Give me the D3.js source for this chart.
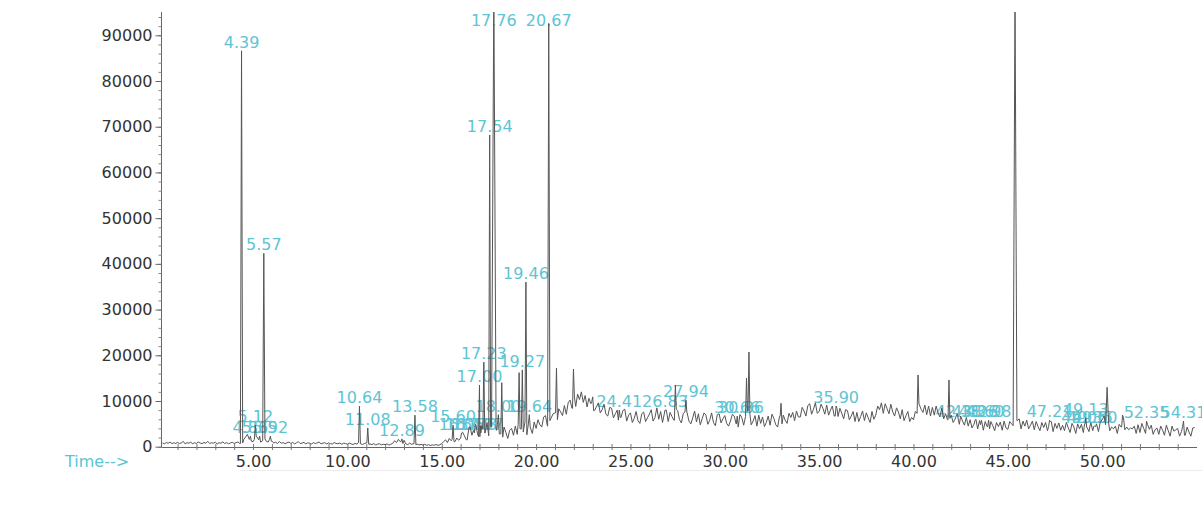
<!DOCTYPE html>
<html>
<head>
<meta charset="utf-8">
<script src="https://cdn.jsdelivr.net/npm/d3@7"></script>
<style>
  body { margin: 0; background: #fff; }
  text { font-family: "DejaVu Sans", sans-serif; }
</style>
</head>
<body>
<svg id="chart" width="1202" height="512"></svg>
<script>
// detector signal (abundance), sampled every 0.1 min starting at 0.2 min
const t0 = 0.2, dt = 0.1;
const signal = [
  820, 640, 900, 750, 1010, 680, 860, 720,                         // 0
  940, 700, 830, 1160, 610, 880, 760, 990, 650, 870,               // 1
  720, 1020, 810, 660, 930, 740, 1180, 690, 850, 770,              // 2
  980, 620, 870, 760, 1040, 700, 900, 640, 820, 950,               // 3
  710, 880, 1050, 680, 800, 1500, 2100, 2700, 1600, 1200,          // 4
  1100, 1600, 2200, 1500, 1000, 1300, 1700, 1200, 1000, 1600,      // 5
  1200, 820, 980, 700, 1150, 760, 900, 640, 870, 1000,             // 6
  700, 930, 620, 850, 1110, 680, 790, 940, 600, 860,               // 7
  760, 590, 900, 700, 820, 1020, 640, 780, 880, 610,               // 8
  830, 680, 560, 900, 720, 640, 810, 520, 760, 690,                // 9
  540, 780, 610, 470, 720, 580, 900, 650, 480, 700,                // 10
  820, 520, 610, 430, 690, 380, 560, 640, 400, 530,                // 11
  460, 620, 350, 540, 720, 1300, 900, 1600, 1100, 680,             // 12
  1400, 600, 460, 780, 520, 640, 430, 560, 380, 500,               // 13
  360, 520, 300, 440, 260, 400, 330, 480, 280, 420,                // 14
  700, 1100, 1500, 900, 1800, 1300, 1600, 1100, 1900, 1400,        // 15
  1900, 3200, 2400, 1500, 3800, 4300, 2500, 3600, 4900, 2800,      // 16
  2200, 4600, 3800, 3000, 5300, 2400, 4400, 2600, 3900, 3600,      // 17
  4800, 2800, 2100, 4300, 3100, 1800, 3600, 4000, 2500, 4500,      // 18
  2700, 4900, 3900, 3200, 5200, 2600, 5000, 4100, 2900, 5400,      // 19
  4000, 5900, 4800, 4300, 6500, 6800, 4500, 5700, 6300, 7200,      // 20
  7400, 5900, 8300, 7600, 6800, 9000, 7100, 9600, 10200, 8400,     // 21
  10900, 8800, 11500, 10300, 12000, 9700, 11200, 8700, 10600, 9400,// 22
  9900, 7900, 8800, 9600, 7400, 8100, 9300, 7100, 6700, 8600,      // 23
  8400, 6300, 7200, 8000, 5800, 6400, 7900, 8200, 5600, 6900,      // 24
  7400, 5300, 6200, 7700, 5700, 5100, 7200, 7600, 5500, 6300,      // 25
  7100, 8100, 5600, 6400, 8500, 6000, 7700, 5300, 6900, 8000,      // 26
  5500, 7500, 6600, 5800, 8200, 7900, 5900, 5200, 7300, 7600,      // 27
  7500, 5600, 5000, 6300, 7800, 5400, 7200, 4800, 6100, 7400,      // 28
  6900, 4900, 5800, 7400, 5300, 4600, 7000, 7200, 5200, 6100,      // 29
  6800, 5100, 4500, 5600, 7100, 6700, 5000, 4300, 7000, 6200,      // 30
  4700, 6600, 7800, 7100, 4800, 5600, 6800, 4500, 6900, 5100,      // 31
  6500, 4400, 5300, 6700, 4700, 7100, 6200, 4800, 4300, 6600,      // 32
  5000, 6900, 5800, 5100, 7300, 6400, 7500, 5700, 7800, 6500,      // 33
  6500, 8600, 7800, 6700, 9000, 9400, 7100, 8200, 9600, 7300,      // 34
  7700, 9300, 8400, 7100, 9100, 6900, 8000, 8900, 6700, 8300,      // 35
  6600, 8400, 7300, 6100, 8100, 7900, 5900, 6700, 7700, 5500,      // 36
  7500, 5500, 6600, 7800, 5700, 7400, 6300, 5300, 7700, 6000,      // 37
  6900, 8900, 8100, 9600, 7300, 9400, 8300, 7200, 9300, 7600,      // 38
  6700, 8500, 7600, 6100, 8100, 5700, 6800, 7700, 5500, 6400,      // 39
  5900, 7700, 7300, 9300, 8200, 7500, 9100, 7000, 8900, 6700,      // 40
  8600, 6900, 8900, 7400, 6500, 8500, 6100, 7200, 5900, 6200,      // 41
  6900, 5300, 6000, 7100, 4900, 6700, 5600, 4700, 6400, 4500,      // 42
  5900, 4100, 4900, 6000, 3900, 5700, 4800, 3600, 5500, 4400,      // 43
  3900, 5500, 4600, 3500, 5300, 4400, 5400, 3600, 5600, 4100,      // 44
  3800, 5500, 5000, 4600, 3600, 5700, 6100, 3900, 5600, 4500,      // 45
  5800, 3900, 4700, 5600, 3700, 5500, 4400, 3500, 5300, 4200,      // 46
  5300, 3500, 4400, 5500, 3300, 5100, 4000, 5200, 3600, 4700,      // 47
  3500, 5300, 4200, 3100, 5100, 4300, 2900, 5000, 3900, 4900,      // 48
  3100, 5100, 4200, 3300, 5200, 3500, 4400, 5000, 3300, 5400,      // 49
  5900, 6700, 4800, 5200, 3500, 4300, 3900, 4500, 2900, 4900,      // 50
  4300, 6300, 3700, 4300, 3700, 4100, 3900, 4500, 2900, 4800,      // 51
  3100, 5100, 4000, 2900, 4900, 3800, 4700, 2700, 3700, 4100,      // 52
  2700, 4500, 3600, 2500, 4700, 3500, 2300, 4500, 3400, 3700,      // 53
  4000, 2300, 3300, 4400, 2500, 4300, 3200, 2300, 4100, 4200       // 54
];

// integrated peaks: [retention time (min), apex abundance, half width (min)]
const labelledPeaks = [
  [4.39, 86600, 0.06], [4.86, 2300], [5.12, 4700], [5.35, 2300], [5.57, 42300, 0.06], [5.92, 2300],
  [10.64, 8900], [11.08, 4100], [12.89, 1700], [13.58, 6900], [15.60, 4700],
  [16.05, 3000], [16.40, 3000], [16.73, 3000], [17.00, 13500], [17.07, 3000],
  [17.23, 18500], [17.54, 68200], [17.76, 100000, 0.12], [18.00, 7000],
  [19.27, 16800], [19.46, 36000], [19.64, 7000], [20.67, 92600, 0.06],
  [24.41, 8000], [26.83, 8000], [27.94, 10200], [30.66, 6700], [30.86, 6700], [35.90, 8900],
  [42.38, 5800], [43.26, 5800], [43.60, 5800], [43.98, 5800], [47.21, 5800],
  [49.05, 4500], [49.13, 6300], [49.35, 4500], [49.60, 4500], [52.35, 5600], [54.31, 5600]
];
// peaks without a retention time label
const otherPeaks = [
  [18.18, 14000], [19.10, 16200], [21.08, 17200], [21.98, 17000], [23.00, 10900],
  [27.38, 13500], [31.15, 15000], [31.28, 20700], [32.98, 9500], [40.24, 15700],
  [41.88, 14600], [45.38, 100000, 0.1], [50.26, 13000, 0.08], [51.08, 6900]
];

const yTicks = d3.range(0, 90001, 10000);
const yMinorTicks = d3.range(0, 94001, 2000);
const xTicks = d3.range(1, 55, 1);
const xLabelTicks = d3.range(5, 51, 5);

const svg = d3.select("#chart");
const x = d3.scaleLinear().domain([0, 55]).range([158.7, 158.7 + 55 * 18.87]);
const y = d3.scaleLinear().domain([0, 90000]).range([446.7, 35.3]);
const cyan = "#5ec4d4";
const fmt = d3.format(".2f");

svg.append("rect").attr("width", 1202).attr("height", 512).attr("fill", "#fff");

// faint scan line under the time labels
svg.append("line").attr("x1", 240).attr("x2", 1202).attr("y1", 470.5).attr("y2", 470.5)
  .attr("stroke", "#ececec");

// y axis
svg.append("line").attr("x1", 161.5).attr("x2", 161.5).attr("y1", 12).attr("y2", 447)
  .attr("stroke", "#666");
svg.append("g").attr("transform", "translate(161.5,0)")
  .call(d3.axisLeft(y).tickValues(yMinorTicks).tickSize(3).tickFormat(""))
  .call(g => g.select(".domain").remove())
  .selectAll("line").attr("stroke", "#888");
svg.append("g").attr("transform", "translate(161.5,0)")
  .call(d3.axisLeft(y).tickValues(yTicks).tickSize(6).tickPadding(3).tickFormat(d3.format("d")))
  .call(g => g.select(".domain").remove())
  .call(g => g.selectAll("line").attr("stroke", "#666"))
  .call(g => g.selectAll("text").attr("font-size", 16).attr("fill", "#333")
    .attr("font-family", "DejaVu Sans"));

// x axis
svg.append("line").attr("x1", 161.5).attr("x2", 1197).attr("y1", 447.5).attr("y2", 447.5)
  .attr("stroke", "#666");
svg.append("g").attr("transform", "translate(0,444)")
  .call(d3.axisBottom(x).tickValues(xTicks).tickSize(6).tickPadding(6)
    .tickFormat(d => xLabelTicks.includes(d) ? fmt(d) : ""))
  .call(g => g.select(".domain").remove())
  .call(g => g.selectAll("line").attr("stroke", "#777"))
  .call(g => g.selectAll("text").attr("font-size", 16).attr("fill", "#333")
    .attr("font-family", "DejaVu Sans"));

svg.append("text").attr("x", 65).attr("y", 467).attr("font-size", 16).attr("fill", cyan)
  .text("Time-->");

// build the trace: baseline samples with peaks spliced in
const allPeaks = labelledPeaks.concat(otherPeaks);
function baseAt(t) {
  const i = Math.round((t - t0) / dt);
  return signal[Math.max(0, Math.min(signal.length - 1, i))];
}
let pts = signal.map((v, i) => [t0 + i * dt, v])
  .filter(([t]) => !allPeaks.some(p => Math.abs(t - p[0]) < (p[2] || 0.05)));
allPeaks.forEach(p => {
  const hw = p[2] || 0.05;
  pts.push([p[0] - hw, baseAt(p[0] - hw)], [p[0], p[1]], [p[0] + hw, baseAt(p[0] + hw)]);
});
pts.sort((a, b) => a[0] - b[0]);

svg.append("clipPath").attr("id", "plot")
  .append("rect").attr("x", 161).attr("y", 12).attr("width", 1041).attr("height", 500);

// peak labels
svg.append("g").selectAll("text").data(labelledPeaks).join("text")
  .attr("x", d => x(d[0]))
  .attr("y", d => Math.max(y(d[1]) - 3, 26))
  .attr("text-anchor", "middle")
  .attr("font-size", 16)
  .attr("fill", cyan)
  .text(d => fmt(d[0]));

svg.append("path")
  .datum(pts)
  .attr("clip-path", "url(#plot)")
  .attr("fill", "none")
  .attr("stroke", "#555")
  .attr("stroke-width", 1)
  .attr("d", d3.line().x(d => x(d[0])).y(d => y(d[1])));
</script>
</body>
</html>
